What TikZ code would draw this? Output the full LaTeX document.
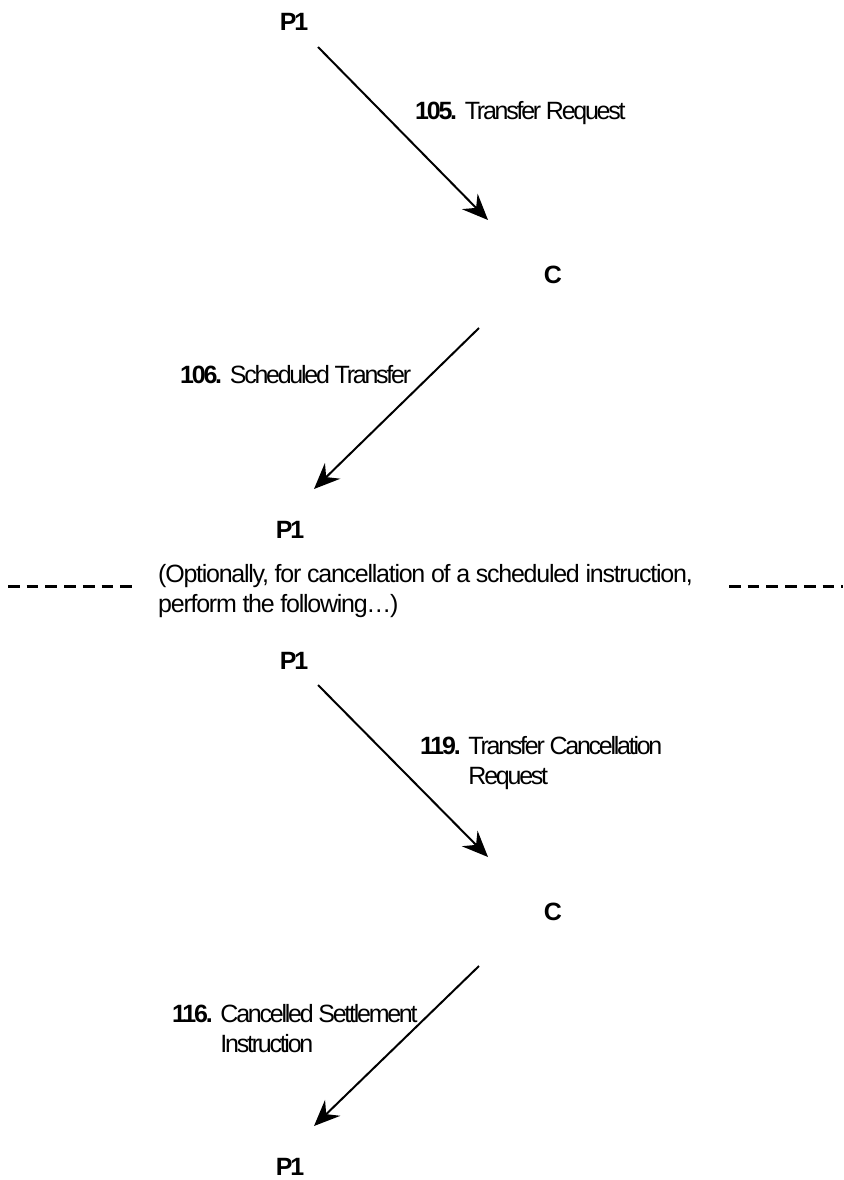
\documentclass[tikz,border=0pt]{standalone}
\usepackage{fontspec}
\setmainfont{Liberation Sans}[LetterSpace=-9]
\newfontfamily\notefont{Liberation Sans}[LetterSpace=-5]
\usetikzlibrary{arrows.meta,calc}
\begin{document}
\begin{tikzpicture}[x=1pt,y=-1pt,
  party/.style={font=\fontsize{25}{30}\selectfont\bfseries, inner sep=0pt, anchor=base},
  msg/.style={font=\fontsize{25}{30}\selectfont, inner sep=0pt, anchor=base west},
  note/.style={font=\notefont\fontsize{25}{30}\selectfont, inner sep=0pt, anchor=base west},
  flow/.style={line width=2pt, -{Stealth[length=26pt,width=22pt,inset=9pt]}},
  sepline/.style={line width=3pt, dash pattern=on 11.7pt off 7pt}]
\useasboundingbox (0,0) rectangle (843,1180);

% participants
\node[party] (p1a) at (294,31)   {P1};
\node[party] (c1)  at (553,283)  {C};
\node[party] (p1b) at (290,538)  {P1};
\node[party] (p1c) at (294,669)  {P1};
\node[party] (c2)  at (553,920)  {C};
\node[party] (p1d) at (290,1175) {P1};

% message labels
\node[msg] (m105) at (415,120)
  {\textbf{105.}\hspace{10pt}Transfer Request};
\node[msg] (m106) at (180,383)
  {\textbf{106.}\hspace{10pt}Scheduled Transfer};
\node[msg] (m119) at (420,754)
  {\textbf{119.}\hspace{10pt}\begin{tabular}[t]{@{}l@{}}Transfer Cancellation\\Request\end{tabular}};
\node[msg] (m116) at (172,1022)
  {\textbf{116.}\hspace{10pt}\begin{tabular}[t]{@{}l@{}}Cancelled Settlement\\Instruction\end{tabular}};

% optional section separator
\node[note] (opt) at (158,582)
  {\begin{tabular}[t]{@{}l@{}}(Optionally, for cancellation of a scheduled instruction,\\perform the following\ldots)\end{tabular}};
\coordinate (sl1) at (8,586);
\coordinate (sl2) at (134,586);
\coordinate (sr1) at (729,586);
\coordinate (sr2) at (843,586);
\draw[sepline] (sl1) -- (sl2);
\draw[sepline] (sr1) -- (sr2);

% message flows
\draw[flow] ($(p1a.base)+(24,16)$) -- ($(c1.base)+(-65,-63)$);
\draw[flow] ($(c1.base)+(-74,45)$) -- ($(p1b.base)+(24,-49)$);
\draw[flow] ($(p1c.base)+(24,16)$) -- ($(c2.base)+(-65,-63)$);
\draw[flow] ($(c2.base)+(-74,46)$) -- ($(p1d.base)+(24,-49)$);
\end{tikzpicture}
\end{document}
